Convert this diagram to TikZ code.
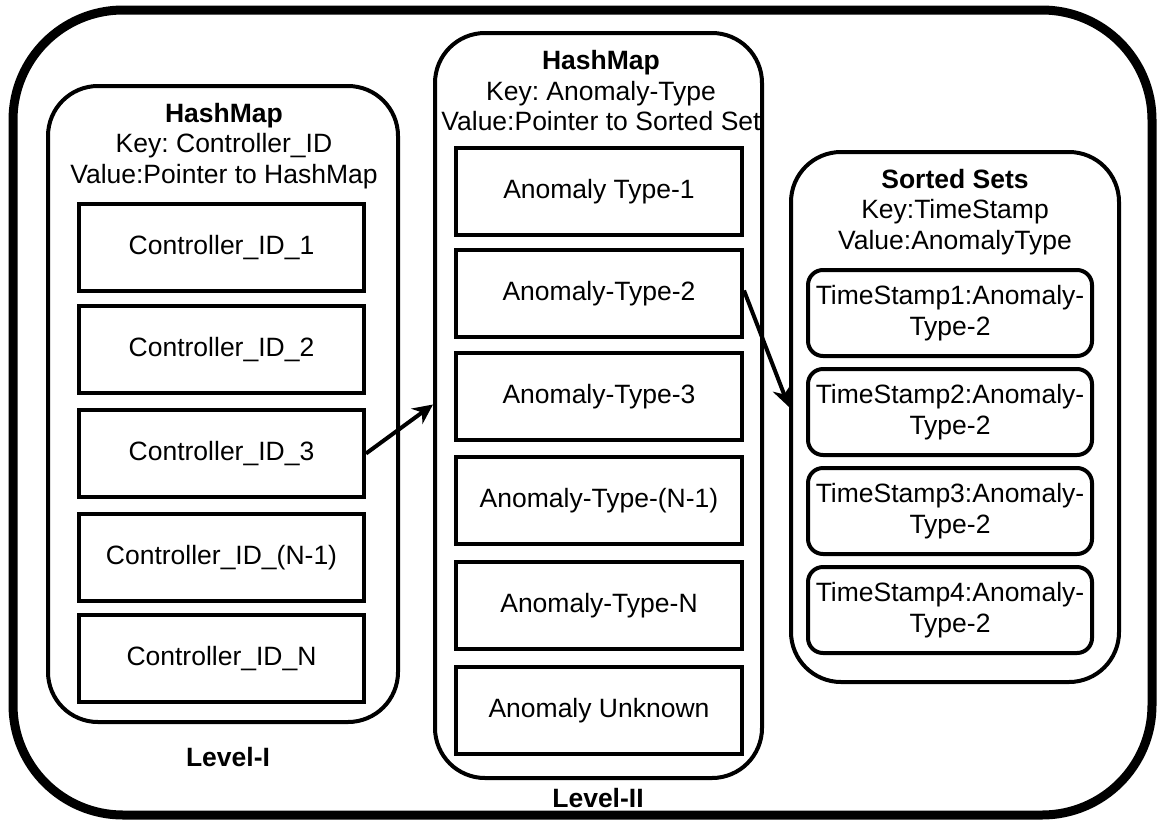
\documentclass[tikz,border=0pt]{standalone}
\usepackage{fontspec}
\setmainfont{Liberation Sans}
\usetikzlibrary{arrows.meta}
\newcommand{\pictfont}{\fontsize{26.5}{30.5}\selectfont\frenchspacing}
\tikzset{
  outerbox/.style={draw, line width=9pt, rounded corners=110pt, minimum width=1139pt, minimum height=805pt, inner sep=0pt},
  container/.style={draw, line width=4pt, rounded corners=50pt, inner sep=0pt},
  cell/.style={draw, line width=4pt, minimum width=285pt, minimum height=87pt, inner sep=0pt, align=center},
  tscell/.style={draw, line width=4pt, rounded corners=15pt, minimum width=284pt, minimum height=86pt, inner sep=0pt, align=center},
  title/.style={align=center, inner sep=0pt},
  lvl/.style={inner sep=0pt, font=\pictfont\bfseries},
  arr/.style={line width=4pt, -{Stealth[length=20pt, width=19pt]}}
}
\begin{document}
\begin{tikzpicture}[x=1pt, y=-1pt, font=\pictfont]
\useasboundingbox (0,0) rectangle (1158,822);
% outer frame
\node[outerbox] (outer) at (582.5,412.5) {};
% containers
\node[container, minimum width=350pt, minimum height=636pt] (l1) at (223,404) {};
\node[container, minimum width=327pt, minimum height=745pt] (l2) at (598.5,405.5) {};
\node[container, minimum width=328pt, minimum height=530pt] (ss) at (955,417) {};
% titles
\node[title] (t1) at (224,146) {\textbf{HashMap}\\Key: Controller\_ID\\Value:Pointer to HashMap};
\node[title] (t2) at (601,91) {\textbf{HashMap}\\Key: Anomaly-Type\\Value:Pointer to Sorted Set};
\node[title] (t3) at (955,212) {\textbf{Sorted Sets}\\Key:TimeStamp\\Value:AnomalyType};
% level I cells
\node[cell] (c1) at (221.5,247.5) {Controller\_ID\_1};
\node[cell] (c2) at (221.5,349.5) {Controller\_ID\_2};
\node[cell] (c3) at (221.5,453.5) {Controller\_ID\_3};
\node[cell] (c4) at (221.5,557.5) {Controller\_ID\_(N-1)};
\node[cell] (c5) at (221.5,658.5) {Controller\_ID\_N};
% level II cells
\node[cell, minimum width=286pt] (a1) at (599,191.5) {Anomaly Type-1};
\node[cell, minimum width=286pt] (a2) at (599,293.5) {Anomaly-Type-2};
\node[cell, minimum width=286pt] (a3) at (599,396.5) {Anomaly-Type-3};
\node[cell, minimum width=286pt] (a4) at (599,500.5) {Anomaly-Type-(N-1)};
\node[cell, minimum width=286pt] (a5) at (599,605.5) {Anomaly-Type-N};
\node[cell, minimum width=286pt] (a6) at (599,710.5) {Anomaly Unknown};
% sorted set cells
\node[tscell] (s1) at (950,313) {TimeStamp1:Anomaly-\\Type-2};
\node[tscell] (s2) at (950,412) {TimeStamp2:Anomaly-\\Type-2};
\node[tscell] (s3) at (950,511) {TimeStamp3:Anomaly-\\Type-2};
\node[tscell] (s4) at (950,610) {TimeStamp4:Anomaly-\\Type-2};
% level labels
\node[lvl] (lv1) at (228,757) {Level-I};
\node[lvl] (lv2) at (598,798) {Level-II};
% arrows
\draw[arr] (c3.east) -- ([yshift=1pt]l2.west);
\draw[arr] ([yshift=3pt]a2.east) -- ([yshift=10pt]ss.west);
\end{tikzpicture}
\end{document}
